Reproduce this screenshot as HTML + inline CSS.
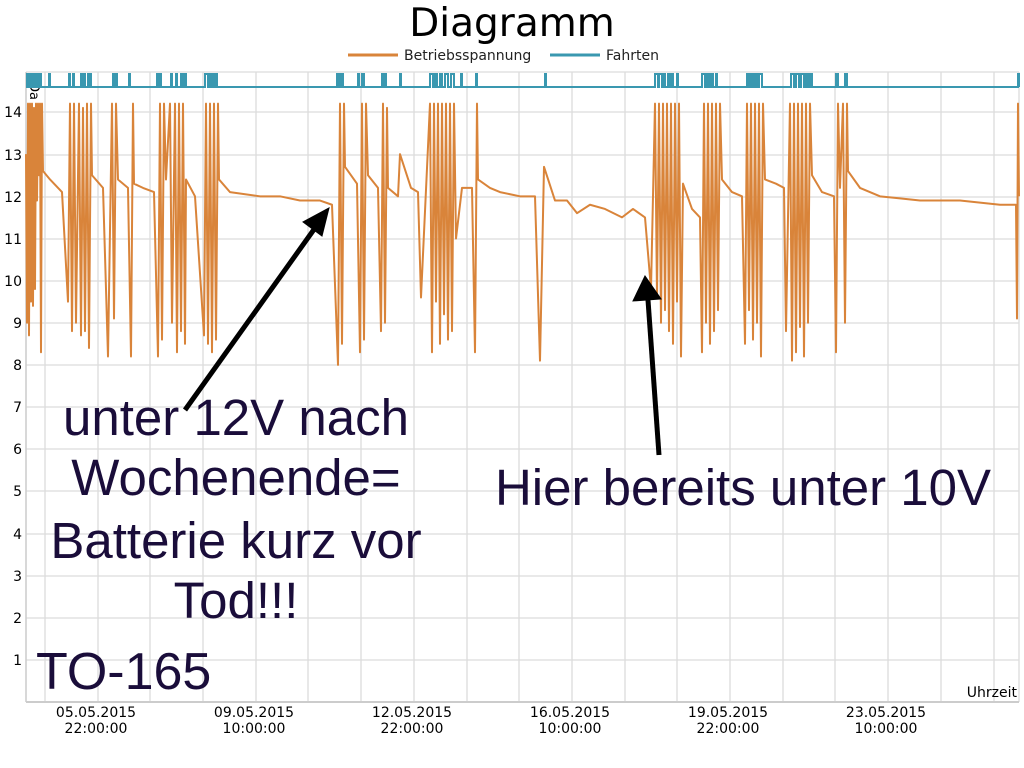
<!DOCTYPE html>
<html><head><meta charset="utf-8"><style>
body{margin:0;background:#fff;width:1024px;height:768px;overflow:hidden}
svg{display:block}
</style></head><body>
<svg width="1024" height="768" viewBox="0 0 1024 768" font-family="DejaVu Sans, Liberation Sans, sans-serif">
<rect width="1024" height="768" fill="#fff"/>
<text x="512" y="36" font-size="39" text-anchor="middle" fill="#000">Diagramm</text>
<line x1="348" y1="55" x2="398" y2="55" stroke="#d9843a" stroke-width="3"/>
<text x="404" y="60" font-size="14" fill="#222">Betriebsspannung</text>
<line x1="550" y1="55" x2="600" y2="55" stroke="#3a98b0" stroke-width="3"/>
<text x="606" y="60" font-size="14" fill="#222">Fahrten</text>
<g stroke="#dcdcdc" stroke-width="1.3">
<line x1="26" y1="72" x2="1019" y2="72"/>
<line x1="26" y1="112" x2="1019" y2="112"/><line x1="26" y1="155" x2="1019" y2="155"/><line x1="26" y1="197" x2="1019" y2="197"/><line x1="26" y1="239" x2="1019" y2="239"/><line x1="26" y1="281" x2="1019" y2="281"/><line x1="26" y1="323" x2="1019" y2="323"/><line x1="26" y1="365" x2="1019" y2="365"/><line x1="26" y1="407" x2="1019" y2="407"/><line x1="26" y1="449" x2="1019" y2="449"/><line x1="26" y1="491" x2="1019" y2="491"/><line x1="26" y1="534" x2="1019" y2="534"/><line x1="26" y1="576" x2="1019" y2="576"/><line x1="26" y1="618" x2="1019" y2="618"/><line x1="26" y1="660" x2="1019" y2="660"/>
<line x1="45" y1="72" x2="45" y2="702"/><line x1="98" y1="72" x2="98" y2="702"/><line x1="150" y1="72" x2="150" y2="702"/><line x1="203" y1="72" x2="203" y2="702"/><line x1="256" y1="72" x2="256" y2="702"/><line x1="308" y1="72" x2="308" y2="702"/><line x1="361" y1="72" x2="361" y2="702"/><line x1="414" y1="72" x2="414" y2="702"/><line x1="467" y1="72" x2="467" y2="702"/><line x1="519" y1="72" x2="519" y2="702"/><line x1="572" y1="72" x2="572" y2="702"/><line x1="625" y1="72" x2="625" y2="702"/><line x1="677" y1="72" x2="677" y2="702"/><line x1="730" y1="72" x2="730" y2="702"/><line x1="783" y1="72" x2="783" y2="702"/><line x1="835" y1="72" x2="835" y2="702"/><line x1="888" y1="72" x2="888" y2="702"/><line x1="941" y1="72" x2="941" y2="702"/><line x1="994" y1="72" x2="994" y2="702"/><line x1="1019" y1="72" x2="1019" y2="702"/>
</g>
<line x1="26" y1="702" x2="1019" y2="702" stroke="#ccc" stroke-width="2"/>
<line x1="26" y1="72" x2="26" y2="702" stroke="#ccc" stroke-width="1.5"/>
<g font-size="14" fill="#000" text-anchor="end">
<text x="22" y="117">14</text><text x="22" y="160">13</text><text x="22" y="202">12</text><text x="22" y="244">11</text><text x="22" y="286">10</text><text x="22" y="328">9</text><text x="22" y="370">8</text><text x="22" y="412">7</text><text x="22" y="454">6</text><text x="22" y="496">5</text><text x="22" y="539">4</text><text x="22" y="581">3</text><text x="22" y="623">2</text><text x="22" y="665">1</text>
</g>
<text transform="translate(30,82) rotate(90)" font-size="13" fill="#000">Da</text>
<g font-size="14" fill="#000" text-anchor="middle">
<text x="96" y="717">05.05.2015</text><text x="96" y="733">22:00:00</text>
<text x="254" y="717">09.05.2015</text><text x="254" y="733">10:00:00</text>
<text x="412" y="717">12.05.2015</text><text x="412" y="733">22:00:00</text>
<text x="570" y="717">16.05.2015</text><text x="570" y="733">10:00:00</text>
<text x="728" y="717">19.05.2015</text><text x="728" y="733">22:00:00</text>
<text x="886" y="717">23.05.2015</text><text x="886" y="733">10:00:00</text>
</g>
<text x="1017" y="697" font-size="14" text-anchor="end" fill="#000">Uhrzeit</text>
<path fill="none" stroke="#3a98b0" stroke-width="2" d="M26,87 H27 V74 H28 V87 H29 V74 H30 V87 H31 V74 H33 V87 H34 V74 H35 V87 H36 V74 H38 V87 H40 V74 H41 V87 H49 V74 H50 V87 H69 V74 H70 V87 H73 V74 H74 V87 H81 V74 H82 V87 H84 V74 H85 V87 H88 V74 H89 V87 H90 V74 H91 V87 H113 V74 H114 V87 H116 V74 H117 V87 H129 V74 H130 V87 H157 V74 H158 V87 H160 V74 H161 V87 H171 V74 H172 V87 H176 V74 H177 V87 H181 V74 H183 V87 H185 V74 H186 V87 H205 V74 H208 V87 H209 V74 H211 V87 H212 V74 H214 V87 H215 V74 H217 V87 H337 V74 H339 V87 H341 V74 H343 V87 H358 V74 H359 V87 H362 V74 H364 V87 H382 V74 H383 V87 H385 V74 H386 V87 H400 V74 H401 V87 H430 V74 H433 V87 H435 V74 H437 V87 H440 V74 H442 V87 H445 V74 H448 V87 H451 V74 H454 V87 H461 V74 H462 V87 H476 V74 H477 V87 H545 V74 H546 V87 H655 V74 H658 V87 H659 V74 H662 V87 H663 V74 H665 V87 H668 V74 H670 V87 H672 V74 H673 V87 H677 V74 H678 V87 H702 V74 H705 V87 H707 V74 H709 V87 H711 V74 H713 V87 H716 V74 H717 V87 H747 V74 H749 V87 H751 V74 H753 V87 H755 V74 H757 V87 H759 V74 H762 V87 H791 V74 H794 V87 H796 V74 H799 V87 H801 V74 H804 V87 H806 V74 H808 V87 H810 V74 H812 V87 H836 V74 H838 V87 H845 V74 H847 V87 H1018 V74 H1019 V87"/>
<polyline fill="none" stroke="#d9843a" stroke-width="2" stroke-linejoin="round" vector-effect="non-scaling-stroke" transform="translate(0,702) scale(1,-42.14)" points="
26,13 27,9 28,14.2 29,8.7 30,14.2 31,9.5 32,14.2 33,9.4 34,14.1 35,9.8 36,14.2 37,11.9 38,14.2 39,12.5 40,14.2 41,8.3 42,14.2 43,12.6
50,12.4 62,12.1 68,9.5 70,14.2 72,8.8 74,14.2 76,9 79,14.2 81,8.7 83,14.1 85,8.8 87,14.2 89,8.4 91,14.2 92,12.5 103,12.2 108,8.2 112,14.2 114,9.1 116,14.2 118,12.4 128,12.2 131,8.2 133,14.2 134,12.3 143,12.2 154,12.1 158,8.2 160,14.2 162,8.6 164,14.2 166,12.4 170,14.2 172,9 175,14.2 177,8.3 179,14.2 181,8.8 183,14.2 185,8.5 186,12.4 195,12.0 204,8.7 206,14.2 208,8.5 210,14.2 212,8.3 214,14.2 216,8.6 218,14.2 219,12.4 230,12.1 260,12.0 280,12.0 300,11.9 320,11.9 332,11.8 338,8.0 340,14.2 342,8.5 344,14.2 345,12.7 357,12.3 360,8.3 362,14.2 364,8.6 366,14.2 368,12.5 378,12.2 381,8.8 383,14.2 385,9 387,14.1 388,12.2 398,12.0 400,13.0 411,12.2 418,12.1 421,9.6 430,14.2 432,8.3 434,14.2 436,9.5 438,14.2 440,8.5 442,14.2 444,9.2 446,14.2 448,8.6 450,14.2 452,8.8 454,14.2 456,11.0 462,12.2 472,12.2 475,8.3 477,14.2 478,12.4 490,12.2 500,12.1 520,12.0 535,12.0 540,8.1 544,12.7 555,11.9 567,11.9 577,11.6 590,11.8 605,11.7 622,11.5 633,11.7 645,11.5 651,9.8 655,14.2 657,9.6 659,14.2 661,9 663,14.2 665,9.3 667,14.2 669,8.8 671,14.2 673,8.5 675,14.2 677,9.5 679,14.2 681,8.2 683,12.3 692,11.7 700,11.5 702,8.3 704,14.2 706,9 708,14.2 710,8.5 712,14.2 714,8.8 716,14.2 718,9.3 720,14.2 722,12.4 732,12.1 742,12.0 745,8.5 747,14.2 749,9.3 751,14.2 753,8.6 755,14.2 757,9 759,14.2 761,8.2 763,14.2 765,12.4 776,12.3 784,12.2 786,8.8 790,14.2 792,8.1 794,14.2 796,8.3 798,14.2 800,8.9 802,14.2 804,8.2 806,14.2 808,9 810,14.2 812,12.5 822,12.1 834,12.0 836,8.3 838,14.2 840,12.2 843,14.2 845,9.0 847,14.2 848,12.6 860,12.2 880,12.0 900,11.95 920,11.9 940,11.9 960,11.9 980,11.85 1000,11.8 1016,11.8 1017,9.1 1018,14.2 1019,12.0"/>
<g stroke="#000" stroke-width="5" fill="#000">
<line x1="185" y1="410" x2="315" y2="228"/>
<polygon points="329,208 303,222 322,236" stroke-width="1"/>
<line x1="659" y1="455" x2="648" y2="300"/>
<polygon points="645,276 633,301 661,299" stroke-width="1"/>
</g>
<g font-family="Liberation Sans, Arial, sans-serif" font-size="51" fill="#1a0d3a" text-anchor="middle">
<text x="236" y="435">unter 12V nach</text>
<text x="236" y="495">Wochenende=</text>
<text x="236" y="558">Batterie kurz vor</text>
<text x="236" y="618">Tod!!!</text>
<text x="743" y="505">Hier bereits unter 10V</text>
<text x="36" y="689" text-anchor="start" font-size="52">TO-165</text>
</g>
</svg>
</body></html>
